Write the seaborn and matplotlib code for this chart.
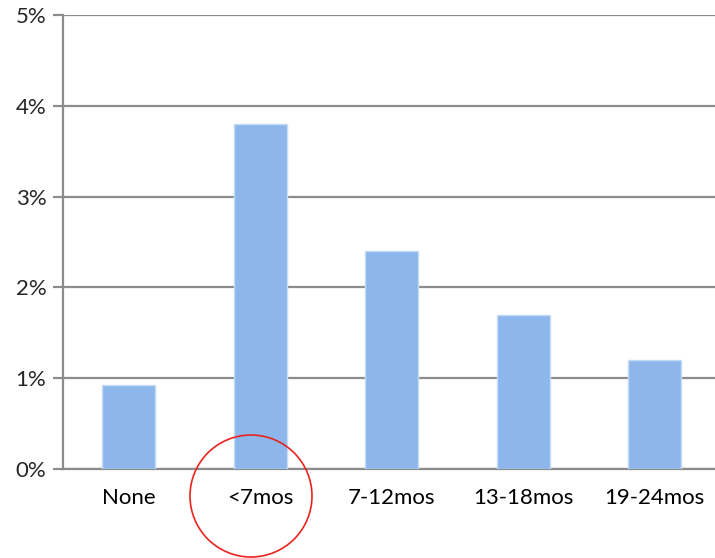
import matplotlib
matplotlib.use("Agg")
import matplotlib.pyplot as plt
from matplotlib.patches import Ellipse
from matplotlib.ticker import FuncFormatter, FixedLocator
import seaborn as sns
import pandas as pd

categories = ["None", "<7mos", "7-12mos", "13-18mos", "19-24mos"]
values = [0.92, 3.80, 2.40, 1.70, 1.20]
y_ticks = [0, 1, 2, 3, 4, 5]

sns.set_style("white")
plt.rcParams["font.family"] = ["Lato", "DejaVu Sans"]

df = pd.DataFrame({"group": categories, "pct": values})

fig = plt.figure(figsize=(7.15, 5.58), dpi=100)
W, H = 715, 558
left, right, top, bottom = 63, 720.5, 15, 469
ax = fig.add_axes([left / W, 1 - bottom / H, (right - left) / W, (bottom - top) / H])

sns.barplot(data=df, x="group", y="pct", color="#8db6ea", width=0.4,
            edgecolor="#c4daf5", linewidth=1, saturation=1, ax=ax, zorder=3)

ax.set_xlim(-0.5, len(categories) - 0.5)
ax.set_ylim(0, 5)
ax.set_yticks(y_ticks)
ax.yaxis.set_major_formatter(FuncFormatter(lambda v, _: f"{v:.0f}%"))
ax.yaxis.grid(True, color="#8c8c8c", linewidth=1.6, zorder=0)
ax.set_axisbelow(True)

# category labels centered, tick marks between categories
ax.set_xticks(range(len(categories)))
ax.set_xticklabels(categories)
ax.xaxis.set_minor_locator(FixedLocator([i - 0.5 for i in range(len(categories) + 1)]))
ax.tick_params(axis="x", which="major", length=0, pad=14, labelsize=16, colors="black")
ax.tick_params(axis="x", which="minor", length=7, width=1.6, color="#8c8c8c", direction="out")
ax.tick_params(axis="y", length=7, width=1.6, color="#8c8c8c", labelsize=16, pad=5,
               direction="out", left=True)

for s in ["top", "right"]:
    ax.spines[s].set_visible(False)
for s in ["left", "bottom"]:
    ax.spines[s].set_color("#8c8c8c")
    ax.spines[s].set_linewidth(1.6)
ax.set_xlabel("")
ax.set_ylabel("")

circle = Ellipse((251 / W, 1 - 496 / H), 122 / W, 122 / H, transform=fig.transFigure,
                 fill=False, edgecolor="#e8241f", linewidth=1.2)
fig.patches.append(circle)

fig.savefig("out.png", dpi=100)
